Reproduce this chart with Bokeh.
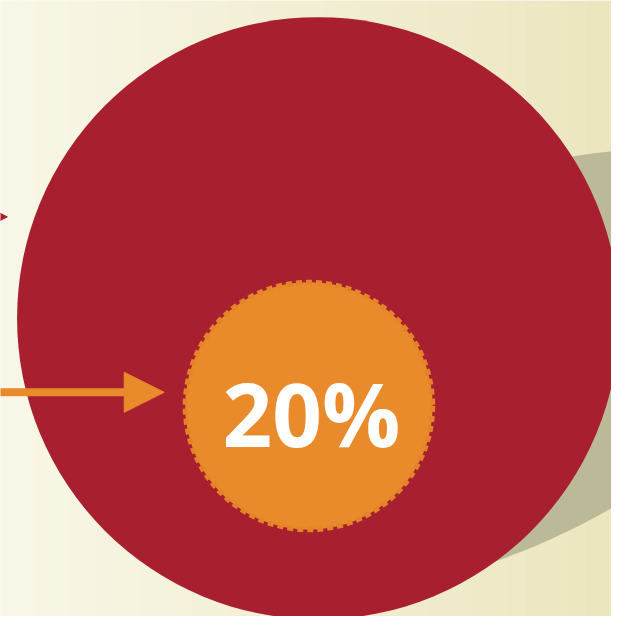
import numpy as np
from bokeh.plotting import figure
from bokeh.models import Range1d, Arrow, NormalHead
from bokeh.core.properties import value
from bokeh.embed import file_html
from bokeh.resources import INLINE

# ---- data ----
share_labels = ["20%"]
share_values = [20]

# ---- geometry (reference pixel space, y downward) ----
W, H = 627, 632
p = figure(width=611, height=616, output_backend="svg", toolbar_location=None,
           x_range=Range1d(0, W), y_range=Range1d(H, 0), min_border=0)
p.axis.visible = False
p.grid.visible = False
p.outline_line_color = None
p.background_fill_color = "#f8f5e3"
p.border_fill_color = "#f8f5e3"

# background horizontal gradient
n = 70
c0 = np.array([249, 247, 232])
c1 = np.array([236, 230, 191])
edges = np.linspace(0, W, n + 1)
cols = []
for i in range(n):
    t = (i + 0.5) / n
    c = (c0 * (1 - t) + c1 * t).astype(int)
    cols.append("#%02x%02x%02x" % tuple(c))
p.quad(left=edges[:-1], right=edges[1:] + 0.5, bottom=[H] * n, top=[0] * n,
       fill_color=cols, line_color=None)

# shadow (rotated ellipse)
cx, cy, a, b = 496.4, 381.1, 364.2, 184.4
u = np.array([0.905, -0.426]); v = np.array([0.426, 0.905])
tt = np.linspace(0, 2 * np.pi, 240)
sx = cx + a * np.cos(tt) * u[0] + b * np.sin(tt) * v[0]
sy = cy + a * np.cos(tt) * u[1] + b * np.sin(tt) * v[1]
p.patch(sx, sy, fill_color="#bcb999", line_color=None)

# big red circle (100%)
p.circle(x=[326], y=[326], radius=309, fill_color="#a81f30", line_color=None)

# orange share circle
p.circle(x=[316.5], y=[416], radius=127, fill_color="#e98a2b",
         line_color="#e38429", line_width=5, line_dash="6 4")

p.text(x=[319], y=[423], text=share_labels, text_font=value("Open Sans"),
       text_font_style="bold", text_font_size="87px", text_color="white",
       text_align="center", text_baseline="middle")

# arrows
p.add_layout(Arrow(x_start=-5, y_start=402, x_end=168, y_end=402,
                   line_color="#e98a2b", line_width=8,
                   end=NormalHead(size=40, fill_color="#e98a2b", line_color="#e98a2b", line_width=1)))
p.add_layout(Arrow(x_start=-60, y_start=222, x_end=7, y_end=222,
                   line_color="#a81f30", line_width=0.1, line_alpha=0,
                   end=NormalHead(size=30, fill_color="#a81f30", line_color="#a81f30", line_width=1)))

open("out.html", "w").write(file_html(p, INLINE))
